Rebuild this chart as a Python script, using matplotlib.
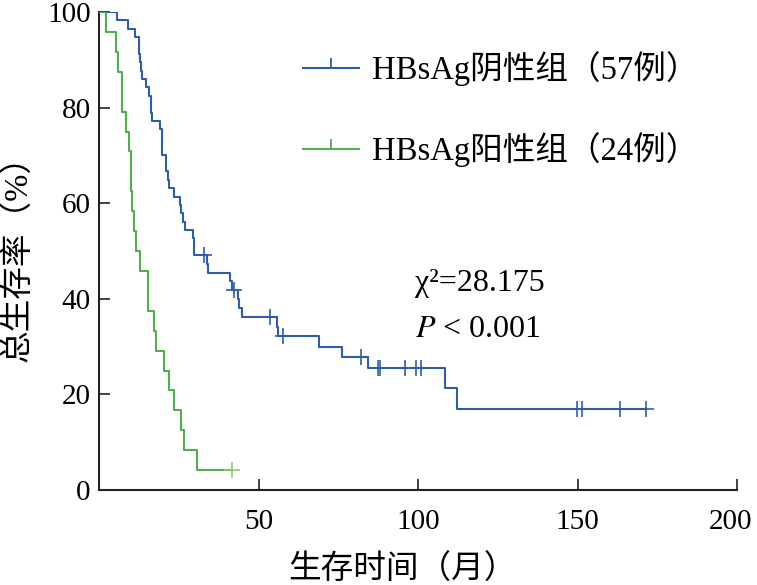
import numpy as np
import matplotlib
matplotlib.use('Agg')
import matplotlib.pyplot as plt
import matplotlib.transforms as mtransforms
from matplotlib.lines import Line2D
from matplotlib.path import Path

# ---- data ----
# HBsAg negative group (57 cases): step times (months) and survival (%) after each step
neg_event_t = [5.6, 9.2, 11.3, 12.5, 12.8, 13.1, 13.4, 14.7, 15.7, 16.2,
               16.7, 19.1, 19.6, 21.0, 21.5, 21.9, 23.4, 25.4, 25.8, 26.3,
               27.1, 29.5, 29.9, 33.9, 34.2, 41.0, 41.7, 43.6, 44.0, 44.8,
               55.8, 56.2, 68.9, 76.2, 84.3, 108.5, 112.2]
neg_surv = [98.25, 96.49, 94.74, 91.23, 89.47, 87.72, 85.96, 84.21, 82.46, 78.95,
            77.19, 75.44, 70.18, 66.67, 64.91, 63.16, 61.40, 59.65, 57.89, 56.14,
            54.39, 52.63, 49.12, 47.30, 45.48, 43.66, 41.84, 39.94, 38.04, 36.14,
            34.13, 32.12, 29.98, 27.84, 25.52, 21.27, 17.01]
neg_cens_t = [33.0, 42.3, 53.6, 57.7, 82.2, 87.4, 88.1, 96.0, 99.4, 101.0,
              149.8, 151.3, 163.2, 171.4]

# HBsAg positive group (24 cases)
pos_event_t = [2.2, 5.3, 6.0, 7.1, 8.4, 9.3, 10.1, 10.5, 11.1, 11.5,
               12.9, 15.3, 17.2, 18.0, 20.4, 21.8, 23.5, 25.6, 26.5, 30.7]
pos_surv = [95.83, 91.67, 87.50, 79.17, 75.00, 70.83, 62.50, 58.33, 54.17, 50.00,
            45.83, 37.50, 33.33, 29.17, 25.00, 20.83, 16.67, 12.50, 8.33, 4.17]
pos_cens_t = [41.6]

labels = ['HBsAg阴性组（57例）', 'HBsAg阳性组（24例）']
x_ticks = [50, 100, 150, 200]
y_ticks = [0, 20, 40, 60, 80, 100]
stat_text = ['χ²=28.175', '$P$ < 0.001']

BLUE = '#2F5DAE'
GREEN = '#4FAE4F'
GREEN_CENS = '#8CCB6E'

plt.rcParams['font.family'] = ['Liberation Serif', 'Noto Sans CJK SC']
plt.rcParams['mathtext.fontset'] = 'stix'

fig = plt.figure(figsize=(7.57, 5.85), dpi=100)
ax = fig.add_axes([99/757, 95/585, 638/757, 478/585])


def step_curve(times, surv, cens):
    end = max(cens) if cens else times[-1]
    xs = [0.0] + list(times) + [end]
    ys = [100.0] + list(surv) + [surv[-1]]
    return xs, ys


def surv_at(times, surv, t):
    idx = np.searchsorted(np.array(times), t, side='right')
    return 100.0 if idx == 0 else surv[idx - 1]


for times, surv, cens, col, ccol in [
        (neg_event_t, neg_surv, neg_cens_t, BLUE, BLUE),
        (pos_event_t, pos_surv, pos_cens_t, GREEN, GREEN_CENS)]:
    xs, ys = step_curve(times, surv, cens)
    ax.step(xs, ys, where='post', color=col, lw=1.5, zorder=3)
    cy = [surv_at(times, surv, t) for t in cens]
    ax.plot(cens, cy, linestyle='none', marker='+', markersize=12,
            mew=1.2, color=ccol, zorder=4)

ax.set_xlim(0, 200)
ax.set_ylim(0, 100)
ax.set_xticks(x_ticks)
ax.set_yticks(y_ticks)
ax.spines['top'].set_visible(False)
ax.spines['right'].set_visible(False)
for s in ['left', 'bottom']:
    ax.spines[s].set_linewidth(1.5)
    ax.spines[s].set_color('#222222')
ax.tick_params(axis='both', direction='in', length=8, width=1.2,
               colors='#222222', labelsize=21, labelcolor='black')
ax.tick_params(axis='x', pad=14)
ax.tick_params(axis='y', pad=6)

# nudge the last x tick label inward so it stays inside the figure
last_lbl = ax.get_xticklabels()[-1]
last_lbl.set_transform(last_lbl.get_transform() +
                       mtransforms.ScaledTranslation(-5/72, 0, fig.dpi_scale_trans))

ax.set_xlabel('生存时间（月）', fontsize=23.5, labelpad=14, x=0.475)
ax.set_ylabel('总生存率（%）', fontsize=23.5, labelpad=9)

tick_marker = Path([(0, 0), (0, 1)])
handles = [Line2D([], [], color=BLUE, lw=1.5, marker=tick_marker,
                  markersize=14, mew=1.3),
           Line2D([], [], color=GREEN, lw=1.5, marker=tick_marker,
                  markersize=14, mew=1.3)]
ax.legend(handles, labels, loc='upper left', bbox_to_anchor=(0.32, 0.918),
          frameon=False, fontsize=23.5, handlelength=1.72, handletextpad=0.4,
          labelspacing=1.42, borderpad=0, borderaxespad=0)

ax.text(0.495, 0.433, stat_text[0], transform=ax.transAxes, fontsize=23,
        va='center', ha='left')
ax.text(0.495, 0.335, stat_text[1], transform=ax.transAxes, fontsize=23,
        va='center', ha='left')

fig.savefig('out.png', dpi=100)
